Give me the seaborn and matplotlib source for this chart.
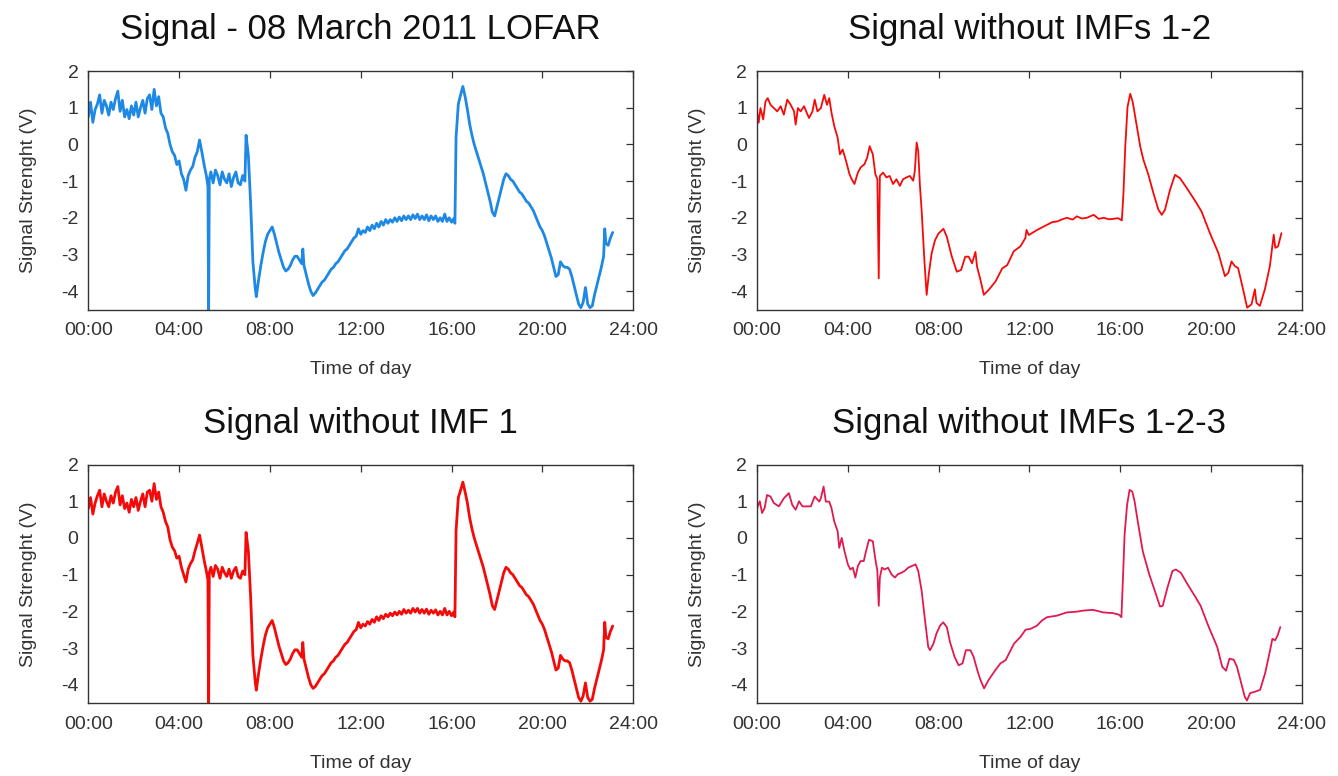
"""
LOFAR signal (08 March 2011) and the same signal with the first IMFs removed
"""

import numpy as np
import pandas as pd
import matplotlib
matplotlib.use("Agg")
import matplotlib.pyplot as plt
import seaborn as sns
from matplotlib.ticker import FuncFormatter, MultipleLocator

# ---- raw signal (time in hours, value in V) ----
hours_raw = [
    0.0, 0.1, 0.2, 0.3, 0.4, 0.5, 0.6, 0.7, 0.8, 0.9,
    1.0, 1.1, 1.2, 1.3, 1.4, 1.5, 1.6, 1.7, 1.8, 1.9,
    2.0, 2.1, 2.2, 2.3, 2.4, 2.5, 2.6, 2.7, 2.8, 2.9,
    3.0, 3.1, 3.2, 3.3, 3.4, 3.5, 3.6, 3.7, 3.8, 3.9,
    4.0, 4.1, 4.2, 4.3, 4.4, 4.5, 4.6, 4.7, 4.8, 4.9,
    5.0, 5.1, 5.2, 5.27, 5.3, 5.33, 5.4, 5.5, 5.6, 5.7,
    5.8, 5.9, 6.0, 6.1, 6.2, 6.3, 6.4, 6.5, 6.6, 6.7,
    6.8, 6.9, 6.95, 7.05, 7.15, 7.25, 7.35, 7.4, 7.5, 7.6,
    7.7, 7.8, 7.9, 8.0, 8.1, 8.2, 8.3, 8.4, 8.5, 8.6,
    8.7, 8.8, 8.9, 9.0, 9.1, 9.2, 9.3, 9.4, 9.45, 9.5,
    9.6, 9.7, 9.8, 9.9, 10.0, 10.1, 10.2, 10.3, 10.4, 10.5,
    10.6, 10.7, 10.8, 10.9, 11.0, 11.1, 11.2, 11.3, 11.4, 11.5,
    11.6, 11.7, 11.8, 11.9, 12.0, 12.1, 12.2, 12.3, 12.4, 12.5,
    12.6, 12.7, 12.8, 12.9, 13.0, 13.1, 13.2, 13.3, 13.4, 13.5,
    13.6, 13.7, 13.8, 13.9, 14.0, 14.1, 14.2, 14.3, 14.4, 14.5,
    14.6, 14.7, 14.8, 14.9, 15.0, 15.1, 15.2, 15.3, 15.4, 15.5,
    15.6, 15.7, 15.8, 15.9, 16.0, 16.1, 16.15, 16.2, 16.3, 16.4,
    16.5, 16.6, 16.7, 16.8, 16.9, 17.0, 17.1, 17.2, 17.3, 17.4,
    17.5, 17.6, 17.7, 17.8, 17.9, 18.0, 18.1, 18.2, 18.3, 18.4,
    18.5, 18.6, 18.7, 18.8, 18.9, 19.0, 19.1, 19.2, 19.3, 19.4,
    19.5, 19.6, 19.7, 19.8, 19.9, 20.0, 20.1, 20.2, 20.3, 20.4,
    20.5, 20.6, 20.7, 20.8, 20.9, 21.0, 21.1, 21.2, 21.3, 21.4,
    21.5, 21.6, 21.7, 21.8, 21.9, 22.0, 22.1, 22.2, 22.3, 22.4,
    22.5, 22.6, 22.7, 22.75, 22.8, 22.9, 23.0, 23.1,
]

signal_raw = [
    0.75, 1.15, 0.60, 0.95, 1.10, 1.35, 0.85, 1.20, 1.05, 0.80,
    1.15, 0.95, 1.25, 1.45, 0.90, 1.20, 0.75, 0.95, 0.70, 1.05,
    0.80, 1.15, 0.75, 1.00, 1.20, 0.85, 1.25, 1.35, 0.95, 1.50,
    1.05, 1.30, 0.85, 0.75, 0.45, 0.30, 0.00, -0.20, -0.30, -0.55,
    -0.45, -0.80, -0.95, -1.25, -0.85, -0.70, -0.60, -0.35, -0.20, 0.12,
    -0.20, -0.55, -0.85, -1.15, -4.70, -0.95, -0.75, -1.05, -0.70, -0.85,
    -1.10, -0.75, -0.95, -1.05, -0.80, -1.15, -0.90, -0.75, -1.05, -1.10,
    -0.85, -1.00, 0.25, -0.30, -1.60, -3.20, -3.90, -4.15, -3.70, -3.30,
    -2.95, -2.65, -2.45, -2.35, -2.25, -2.45, -2.70, -2.95, -3.15, -3.35,
    -3.45, -3.40, -3.30, -3.15, -3.05, -3.05, -3.15, -3.25, -2.85, -3.30,
    -3.55, -3.80, -4.00, -4.12, -4.05, -3.95, -3.85, -3.75, -3.70, -3.60,
    -3.50, -3.40, -3.35, -3.25, -3.20, -3.10, -3.00, -2.90, -2.85, -2.75,
    -2.65, -2.55, -2.50, -2.30, -2.45, -2.35, -2.40, -2.25, -2.35, -2.20,
    -2.30, -2.15, -2.25, -2.10, -2.20, -2.05, -2.15, -2.05, -2.12, -2.00,
    -2.10, -1.98, -2.08, -1.95, -2.05, -1.95, -2.05, -1.92, -2.02, -1.90,
    -2.05, -1.95, -2.05, -1.92, -2.08, -1.95, -2.05, -1.95, -2.10, -2.00,
    -2.10, -1.90, -2.10, -2.00, -2.12, -2.02, -2.15, 0.20, 1.10, 1.35,
    1.58, 1.30, 0.95, 0.55, 0.25, 0.00, -0.20, -0.40, -0.60, -0.80,
    -1.05, -1.30, -1.55, -1.85, -1.95, -1.70, -1.45, -1.20, -0.95, -0.80,
    -0.85, -0.95, -1.00, -1.10, -1.20, -1.30, -1.35, -1.45, -1.55, -1.60,
    -1.70, -1.80, -1.95, -2.10, -2.25, -2.35, -2.50, -2.70, -2.90, -3.10,
    -3.35, -3.60, -3.55, -3.20, -3.30, -3.35, -3.35, -3.40, -3.60, -3.85,
    -4.10, -4.35, -4.45, -4.30, -3.90, -4.35, -4.45, -4.40, -4.10, -3.85,
    -3.60, -3.35, -3.05, -2.30, -2.70, -2.75, -2.55, -2.40,
]

# ---- without IMF 1 (same sampling as raw) ----
signal_no_imf1 = [
    0.80, 1.10, 0.65, 0.95, 1.15, 1.30, 0.85, 1.20, 1.00, 0.85,
    1.15, 0.95, 1.25, 1.40, 0.90, 1.15, 0.80, 0.95, 0.70, 1.05,
    0.85, 1.10, 0.75, 1.00, 1.20, 0.85, 1.25, 1.30, 1.00, 1.48,
    1.05, 1.25, 0.85, 0.70, 0.45, 0.30, -0.05, -0.25, -0.35, -0.55,
    -0.50, -0.80, -1.00, -1.20, -0.85, -0.70, -0.60, -0.35, -0.15, 0.08,
    -0.25, -0.60, -0.90, -1.15, -4.70, -0.95, -0.80, -1.05, -0.75, -0.85,
    -1.10, -0.80, -0.95, -1.05, -0.85, -1.10, -0.90, -0.80, -1.05, -1.10,
    -0.90, -1.00, 0.15, -0.35, -1.60, -3.20, -3.90, -4.15, -3.70, -3.30,
    -2.95, -2.65, -2.45, -2.35, -2.25, -2.45, -2.70, -2.95, -3.15, -3.35,
    -3.45, -3.40, -3.30, -3.15, -3.05, -3.05, -3.15, -3.25, -2.85, -3.30,
    -3.55, -3.80, -4.00, -4.10, -4.05, -3.95, -3.85, -3.75, -3.70, -3.60,
    -3.50, -3.40, -3.35, -3.25, -3.20, -3.10, -3.00, -2.90, -2.85, -2.75,
    -2.65, -2.55, -2.50, -2.30, -2.45, -2.35, -2.40, -2.28, -2.35, -2.22,
    -2.30, -2.15, -2.25, -2.12, -2.20, -2.08, -2.15, -2.05, -2.12, -2.02,
    -2.10, -2.00, -2.08, -1.95, -2.05, -1.97, -2.05, -1.92, -2.02, -1.92,
    -2.05, -1.95, -2.05, -1.94, -2.08, -1.97, -2.05, -1.96, -2.10, -2.00,
    -2.10, -1.92, -2.10, -2.00, -2.12, -2.02, -2.15, 0.20, 1.10, 1.30,
    1.52, 1.25, 0.95, 0.55, 0.25, 0.00, -0.20, -0.40, -0.60, -0.80,
    -1.05, -1.30, -1.55, -1.85, -1.95, -1.70, -1.45, -1.20, -0.95, -0.80,
    -0.85, -0.95, -1.00, -1.10, -1.20, -1.30, -1.35, -1.45, -1.55, -1.60,
    -1.70, -1.80, -1.95, -2.10, -2.25, -2.35, -2.50, -2.70, -2.90, -3.10,
    -3.35, -3.60, -3.55, -3.20, -3.30, -3.35, -3.35, -3.40, -3.60, -3.85,
    -4.10, -4.35, -4.45, -4.30, -3.95, -4.35, -4.45, -4.40, -4.10, -3.85,
    -3.60, -3.35, -3.05, -2.30, -2.70, -2.75, -2.55, -2.40,
]

# ---- without IMFs 1-2 ----
hours_no_imf12 = [
    0.00, 0.07, 0.15, 0.27, 0.37, 0.47, 0.59, 0.74, 0.89, 1.04,
    1.18, 1.33, 1.48, 1.63, 1.70, 1.80, 1.92, 2.07, 2.19, 2.29,
    2.44, 2.54, 2.66, 2.81, 2.96, 3.08, 3.18, 3.28, 3.40, 3.55,
    3.65, 3.77, 3.92, 4.07, 4.17, 4.29, 4.44, 4.56, 4.73, 4.85,
    4.96, 5.10, 5.21, 5.30, 5.36, 5.41, 5.55, 5.70, 5.84, 5.99,
    6.14, 6.29, 6.43, 6.58, 6.73, 6.88, 6.95, 7.03, 7.10, 7.17,
    7.25, 7.37, 7.47, 7.57, 7.69, 7.84, 7.99, 8.21, 8.36, 8.58,
    8.80, 8.99, 9.17, 9.32, 9.47, 9.62, 9.69, 9.84, 9.99, 10.21,
    10.50, 10.80, 11.02, 11.31, 11.60, 11.82, 11.87, 11.97, 12.34, 12.78,
    13.00, 13.22, 13.45, 13.65, 13.90, 14.09, 14.30, 14.53, 14.83, 15.05,
    15.27, 15.50, 15.70, 15.90, 16.07, 16.14, 16.22, 16.32, 16.44, 16.55,
    16.73, 16.88, 17.02, 17.24, 17.46, 17.68, 17.83, 17.97, 18.19, 18.41,
    18.63, 18.93, 19.36, 19.58, 19.95, 20.32, 20.61, 20.76, 20.90, 21.05,
    21.19, 21.41, 21.59, 21.78, 21.93, 22.00, 22.15, 22.37, 22.59, 22.76,
    22.83, 22.95, 23.10,
]

signal_no_imf12 = [
    0.90, 0.59, 0.99, 0.68, 1.17, 1.26, 1.08, 0.99, 0.90, 1.04,
    0.81, 1.22, 1.08, 0.90, 0.54, 0.99, 0.90, 1.04, 0.86, 0.72,
    0.90, 1.22, 0.90, 0.99, 1.35, 1.08, 1.26, 0.86, 0.50, 0.18,
    -0.27, -0.14, -0.45, -0.81, -0.95, -1.08, -0.77, -0.63, -0.54, -0.36,
    -0.05, -0.27, -0.81, -0.95, -3.65, -0.86, -0.77, -0.90, -0.86, -1.08,
    -0.95, -1.13, -0.95, -0.90, -0.86, -0.99, -0.72, 0.05, -0.18, -1.08,
    -1.80, -3.15, -4.10, -3.51, -2.97, -2.61, -2.43, -2.30, -2.52, -3.06,
    -3.47, -3.42, -3.06, -3.06, -3.24, -2.93, -3.33, -3.69, -4.10, -3.96,
    -3.74, -3.38, -3.29, -2.91, -2.78, -2.55, -2.33, -2.47, -2.33, -2.19,
    -2.12, -2.10, -2.04, -2.00, -2.05, -1.96, -2.02, -2.00, -1.92, -2.03,
    -2.00, -2.04, -2.03, -2.01, -2.07, -1.33, -0.06, 1.02, 1.38, 1.15,
    0.48, -0.06, -0.42, -0.83, -1.33, -1.78, -1.92, -1.78, -1.24, -0.83,
    -0.92, -1.19, -1.60, -1.83, -2.42, -2.96, -3.59, -3.50, -3.19, -3.32,
    -3.37, -3.95, -4.45, -4.36, -3.95, -4.32, -4.40, -3.95, -3.32, -2.46,
    -2.82, -2.78, -2.42,
]

# ---- without IMFs 1-2-3 ----
hours_no_imf123 = [
    0.00, 0.12, 0.22, 0.33, 0.44, 0.59, 0.74, 0.96, 1.18, 1.40,
    1.55, 1.70, 1.85, 2.00, 2.22, 2.37, 2.54, 2.74, 2.81, 2.93,
    3.03, 3.18, 3.28, 3.40, 3.55, 3.62, 3.73, 3.85, 4.00, 4.11,
    4.22, 4.33, 4.44, 4.56, 4.70, 4.80, 4.93, 5.10, 5.20, 5.30,
    5.36, 5.41, 5.50, 5.62, 5.77, 5.92, 6.07, 6.20, 6.36, 6.50,
    6.66, 6.80, 6.98, 7.10, 7.25, 7.40, 7.54, 7.62, 7.77, 7.90,
    8.06, 8.20, 8.36, 8.50, 8.70, 8.88, 9.05, 9.20, 9.40, 9.54,
    9.70, 9.84, 10.00, 10.20, 10.50, 10.72, 10.95, 11.32, 11.60, 11.83,
    12.04, 12.33, 12.55, 12.77, 13.20, 13.64, 14.08, 14.37, 14.80, 15.25,
    15.68, 15.94, 16.05, 16.12, 16.19, 16.30, 16.41, 16.53, 16.63, 16.77,
    16.99, 17.28, 17.57, 17.75, 17.87, 18.08, 18.30, 18.45, 18.67, 18.96,
    19.32, 19.54, 19.90, 20.27, 20.49, 20.66, 20.81, 21.00, 21.14, 21.29,
    21.48, 21.58, 21.72, 21.94, 22.16, 22.38, 22.60, 22.70, 22.82, 22.93,
    23.05,
]

signal_no_imf123 = [
    0.81, 1.00, 0.68, 0.81, 1.17, 1.13, 0.95, 0.86, 1.08, 1.22,
    0.90, 0.77, 1.00, 0.86, 0.86, 0.86, 1.13, 0.99, 1.08, 1.40,
    0.99, 0.99, 0.81, 0.45, 0.18, -0.27, 0.00, -0.36, -0.72, -0.86,
    -0.81, -1.08, -0.77, -0.63, -0.63, -0.36, -0.05, -0.09, -0.54, -0.90,
    -1.85, -1.08, -0.81, -0.86, -0.81, -0.99, -1.08, -0.99, -0.95, -0.90,
    -0.81, -0.77, -0.72, -0.90, -1.44, -2.25, -2.97, -3.06, -2.88, -2.61,
    -2.39, -2.30, -2.43, -2.84, -3.24, -3.47, -3.42, -3.06, -3.06, -3.24,
    -3.60, -3.87, -4.10, -3.87, -3.60, -3.42, -3.33, -2.88, -2.70, -2.50,
    -2.48, -2.39, -2.25, -2.16, -2.12, -2.03, -2.01, -1.98, -1.96, -2.03,
    -2.05, -2.09, -2.16, -1.08, 0.09, 0.90, 1.31, 1.26, 1.00, 0.45,
    -0.36, -1.00, -1.53, -1.87, -1.85, -1.35, -0.90, -0.86, -0.95, -1.26,
    -1.62, -1.85, -2.43, -2.97, -3.51, -3.62, -3.29, -3.32, -3.51, -3.87,
    -4.32, -4.43, -4.23, -4.19, -4.14, -3.69, -3.06, -2.75, -2.79, -2.66,
    -2.43,
]

titles = [
    "Signal - 08 March 2011 LOFAR",
    "Signal without IMFs 1-2",
    "Signal without IMF 1",
    "Signal without IMFs 1-2-3",
]


def hour_label(h, pos):
    return f"{int(round(h)):02d}:00"


def main():
    sns.set_theme(style="white")
    plt.rcParams['font.family'] = ['Liberation Sans', 'DejaVu Sans']
    plt.rcParams['axes.unicode_minus'] = False
    text_color = "#333333"

    fig, axes = plt.subplots(2, 2, figsize=(13.38, 7.76), dpi=100)
    fig.subplots_adjust(left=0.066, right=0.973, top=0.9085, bottom=0.094,
                        wspace=0.2275, hspace=0.65)

    panels = [
        (axes[0, 0], hours_raw, signal_raw, "#1e88e5", 2.0),
        (axes[0, 1], hours_no_imf12, signal_no_imf12, "#f50a0a", 1.3),
        (axes[1, 0], hours_raw, signal_no_imf1, "#f50a0a", 2.0),
        (axes[1, 1], hours_no_imf123, signal_no_imf123, "#e01a4f", 1.3),
    ]

    for (ax, h, v, color, lw), title in zip(panels, titles):
        df = pd.DataFrame({"hour": h, "value": v})
        sns.lineplot(data=df, x="hour", y="value", ax=ax, color=color,
                     linewidth=lw, estimator=None, sort=False)

        ax.set_xlim(0, 24)
        ax.set_ylim(-4.5, 2)
        ax.xaxis.set_major_locator(MultipleLocator(4))
        ax.xaxis.set_major_formatter(FuncFormatter(hour_label))
        ax.yaxis.set_major_locator(MultipleLocator(1))

        ax.tick_params(direction="in", top=True, right=True, length=5,
                       width=0.9, colors=text_color, labelsize=14)
        ax.tick_params(axis="x", pad=9)
        ax.tick_params(axis="y", pad=7)
        for spine in ax.spines.values():
            spine.set_color(text_color)
            spine.set_linewidth(1.0)

        ax.set_title(title, fontsize=25, color="#111111", pad=23)
        ax.set_xlabel("Time of day", fontsize=14, color=text_color, labelpad=16)
        ax.set_ylabel("Signal Strenght (V)", fontsize=14, color=text_color, labelpad=17)

    fig.savefig("out.png", dpi=100, facecolor="white")
    plt.close(fig)


if __name__ == '__main__':
    main()
